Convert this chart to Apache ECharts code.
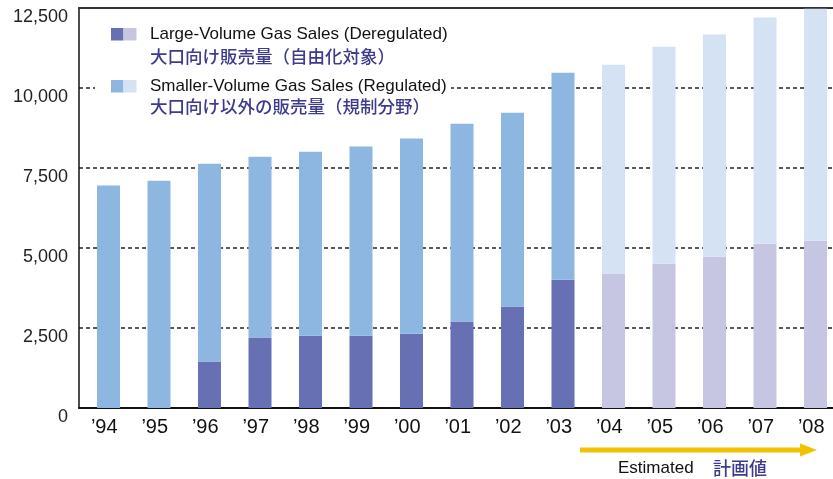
<!DOCTYPE html>
<html>
<head>
<meta charset="utf-8">
<script src="https://cdn.jsdelivr.net/npm/echarts@6/dist/echarts.min.js"></script>
<style>
html,body{margin:0;padding:0;background:#fff;overflow:hidden;width:833px;height:479px;}
#chart{width:841px;height:479px;}
</style>
</head>
<body>
<div id="chart"></div>
<script>
// ---- data ----
const categories = ['\u201994','\u201995','\u201996','\u201997','\u201998','\u201999','\u201900','\u201901','\u201902','\u201903','\u201904','\u201905','\u201906','\u201907','\u201908'];
const largeVolume = [0, 0, 1450, 2200, 2260, 2260, 2320, 2700, 3170, 4010, 4200, 4510, 4730, 5130, 5230];
const smallerVolume = [6950, 7100, 6180, 5650, 5750, 5910, 6100, 6180, 6060, 6470, 6530, 6780, 6940, 7070, 7250];
const estimatedFromIndex = 10; // '04 onward are estimates
const yMin = 0, yMax = 12500, yInterval = 2500;
const legendLarge = ['Large-Volume Gas Sales (Deregulated)', '大口向け販売量（自由化対象）'];
const legendSmall = ['Smaller-Volume Gas Sales (Regulated)', '大口向け以外の販売量（規制分野）'];
const estimatedLabel = ['Estimated', '計画値'];

// ---- styles ----
const C = {
  large: '#6670B2', largeEst: '#C6C6E2',
  small: '#8DB6E0', smallEst: '#D4E2F3',
  jp: '#3C3B8C', arrow: '#F2C200'
};
const sans = "'Liberation Sans', Arial, sans-serif";
const jpFont = "'Noto Sans CJK JP', sans-serif";

const chart = echarts.init(document.getElementById('chart'), null, {renderer: 'canvas'});

function colored(arr, normal, est) {
  return arr.map((v, i) => ({value: v, itemStyle: {color: i >= estimatedFromIndex ? est : normal}}));
}

const option = {
  animation: false,
  backgroundColor: '#fff',
  grid: {left: 79, top: 8, height: 400, width: 757.5, containLabel: false},
  xAxis: [{
    type: 'category', data: categories, position: 'bottom',
    axisLine: {show: true, lineStyle: {color: '#111', width: 2}},
    axisTick: {show: false},
    axisLabel: {fontFamily: sans, fontSize: 20, color: '#111', margin: 9}
  }, {
    type: 'category', data: categories, position: 'top',
    axisLine: {show: true, lineStyle: {color: '#333', width: 2}},
    axisTick: {show: false}, axisLabel: {show: false}
  }],
  yAxis: {
    type: 'value', min: yMin, max: yMax, interval: yInterval,
    axisLine: {show: true, lineStyle: {color: '#111', width: 1.5}},
    axisTick: {show: false},
    axisLabel: {
      fontFamily: sans, fontSize: 18, color: '#222',
      margin: 11, verticalAlign: 'top',
      formatter: v => v.toLocaleString('en-US')
    },
    splitLine: {show: true, showMinLine: false, showMaxLine: false,
      lineStyle: {color: '#222', width: 1.5, type: [4, 3]}}
  },
  series: [{
    // spacer that shifts bars slightly right within each band
    name: 'spacer', type: 'bar', stack: 'sp', barWidth: 8.5, barGap: 0,
    data: categories.map(() => 0), itemStyle: {color: 'rgba(0,0,0,0)'}, silent: true
  }, {
    name: 'Large', type: 'bar', stack: 'total', barWidth: 23, barGap: 0,
    data: colored(largeVolume, C.large, C.largeEst)
  }, {
    name: 'Smaller', type: 'bar', stack: 'total', barWidth: 23, barGap: 0,
    data: colored(smallerVolume, C.small, C.smallEst)
  }],
  graphic: [
    {type: 'rect', z: 10, shape: {x: 95, y: 20, width: 356, height: 100}, style: {fill: '#fff'}},
    {type: 'rect', z: 11, shape: {x: 111, y: 28, width: 12.5, height: 12.5}, style: {fill: C.large}},
    {type: 'rect', z: 11, shape: {x: 123.5, y: 28, width: 13, height: 12.5}, style: {fill: C.largeEst}},
    {type: 'text', z: 11, x: 150, y: 34, style: {text: legendLarge[0], font: '17px ' + sans, fill: '#111', verticalAlign: 'middle'}},
    {type: 'text', z: 11, x: 150, y: 56.5, style: {text: legendLarge[1], font: '500 17.5px ' + jpFont, fill: C.jp, verticalAlign: 'middle'}},
    {type: 'rect', z: 11, shape: {x: 111, y: 80, width: 12.5, height: 12.5}, style: {fill: C.small}},
    {type: 'rect', z: 11, shape: {x: 123.5, y: 80, width: 13, height: 12.5}, style: {fill: C.smallEst}},
    {type: 'text', z: 11, x: 150, y: 86, style: {text: legendSmall[0], font: '17px ' + sans, fill: '#111', verticalAlign: 'middle'}},
    {type: 'text', z: 11, x: 150, y: 106.5, style: {text: legendSmall[1], font: '500 17.5px ' + jpFont, fill: C.jp, verticalAlign: 'middle'}},
    {type: 'polygon', shape: {points: [[580, 447.5], [800, 447.5], [800, 443.5], [817, 450], [800, 456.5], [800, 452.5], [580, 452.5]]}, style: {fill: C.arrow}},
    {type: 'text', x: 618, y: 468, style: {text: estimatedLabel[0], font: '17px ' + sans, fill: '#111', verticalAlign: 'middle'}},
    {type: 'text', x: 713, y: 468, style: {text: estimatedLabel[1], font: '500 18px ' + jpFont, fill: C.jp, verticalAlign: 'middle'}}
  ]
};
chart.setOption(option);
</script>
</body>
</html>
